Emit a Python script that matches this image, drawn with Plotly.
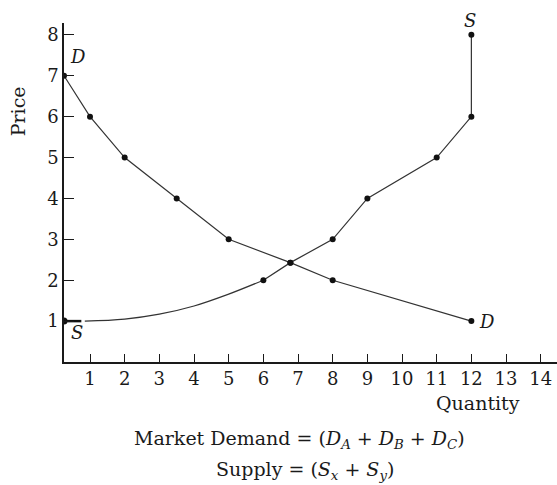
import plotly.graph_objects as go

# market demand schedule (quantity, price)
demand_q = [0.25, 1, 2, 3.5, 5, 6.78, 8, 12]
demand_p = [7, 6, 5, 4, 3, 2.43, 2, 1]

# supply: flat start, smooth curve, then plotted points
supply_flat_q = [0.25, 0.75]
supply_flat_p = [1, 1]
supply_curve_q = [0.85, 2, 3, 4, 5, 6]
supply_curve_p = [1.0, 1.05, 1.17, 1.37, 1.66, 2.0]
supply_q = [6, 6.78, 8, 9, 11, 12, 12]
supply_p = [2, 2.43, 3, 4, 5, 6, 8]

x_ticks = list(range(1, 15))
y_ticks = list(range(1, 9))

FONT = "DejaVu Serif"
INK = "#1a1a1a"

fig = go.Figure()
fig.add_trace(go.Scatter(x=demand_q, y=demand_p, mode="lines+markers",
                         line=dict(color="#333333", width=1.2),
                         marker=dict(color="#111111", size=6)))
fig.add_trace(go.Scatter(x=supply_flat_q, y=supply_flat_p, mode="lines",
                         line=dict(color="#111111", width=2.5)))
fig.add_trace(go.Scatter(x=supply_flat_q[:1], y=supply_flat_p[:1], mode="markers",
                         marker=dict(color="#111111", size=7)))
fig.add_trace(go.Scatter(x=supply_curve_q, y=supply_curve_p, mode="lines",
                         line=dict(color="#333333", width=1.2, shape="spline")))
fig.add_trace(go.Scatter(x=supply_q, y=supply_p, mode="lines+markers",
                         line=dict(color="#333333", width=1.2),
                         marker=dict(color="#111111", size=6)))

def label(x, y, text, xref="x", yref="y", size=18, angle=0, xanchor="center"):
    fig.add_annotation(x=x, y=y, xref=xref, yref=yref, text=text, showarrow=False,
                       textangle=angle, xanchor=xanchor, yanchor="middle",
                       font=dict(family=FONT, size=size, color=INK))

label(0.65, 7.46, "<i>D</i>")
label(0.62, 0.71, "<i>S</i>")
# the top S sits above the y range, so place it in paper height
label(11.97, 1.006, "<i>S</i>", yref="paper")
label(12.15, 1.0, "<i>D</i>", xanchor="left")
label(-0.093, 0.74, "Price", "paper", "paper", size=19, angle=-90)
label(0.84, -0.121, "Quantity", "paper", "paper", size=19)
label(0.477, -0.23,
      "Market Demand = (<i>D</i><sub><i>A</i></sub> + <i>D</i><sub><i>B</i></sub> + <i>D</i><sub><i>C</i></sub>)",
      "paper", "paper", size=19)
label(0.489, -0.319,
      "Supply = (<i>S</i><sub><i>x</i></sub> + <i>S</i><sub><i>y</i></sub>)",
      "paper", "paper", size=19)

fig.update_layout(
    width=557, height=485,
    margin=dict(l=64, r=0, t=23, b=123),
    paper_bgcolor="white", plot_bgcolor="white",
    showlegend=False,
    font=dict(family=FONT, size=18, color=INK),
)
fig.update_xaxes(range=[0.25, 14.47], tickvals=x_ticks, ticks="inside", ticklen=8,
                 tickcolor=INK, showline=True, linecolor=INK, linewidth=1.5,
                 showgrid=False, zeroline=False)
fig.update_yaxes(range=[0, 8.29], tickvals=y_ticks, ticks="inside", ticklen=10,
                 tickcolor=INK, showline=True, linecolor=INK, linewidth=1.5,
                 showgrid=False, zeroline=False)

# drop the default page margin so the figure sits at the window's corner
fig.write_html("out.html", config={"displayModeBar": False},
               post_script="document.body.style.margin='0';document.body.style.overflow='hidden';")
